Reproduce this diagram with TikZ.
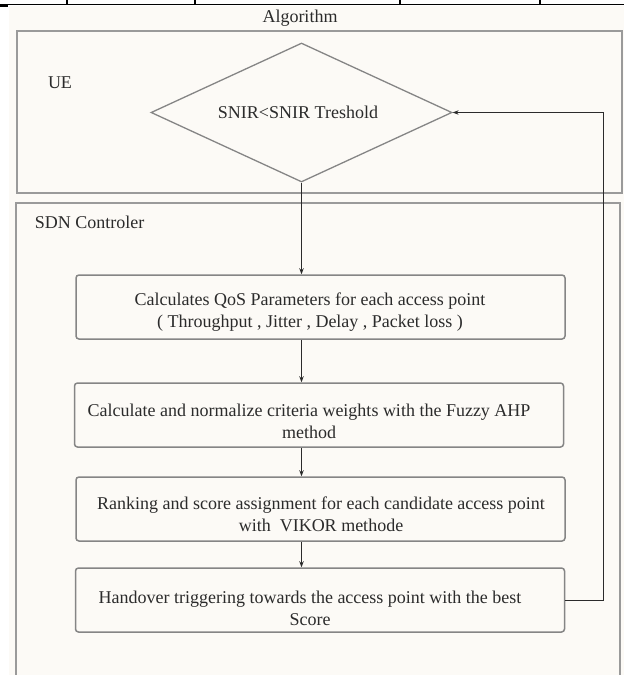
\documentclass[tikz,border=0pt]{standalone}
\usepackage{fontspec}
\setmainfont{Liberation Serif}
\usetikzlibrary{shapes.geometric,arrows.meta}
\definecolor{cream}{HTML}{FCFAF6}
\definecolor{framegray}{HTML}{9A9A9A}
\definecolor{boxgray}{HTML}{858585}
\definecolor{ink}{HTML}{2B2B2B}
\begin{document}
\begin{tikzpicture}[x=1pt,y=-1pt,
  every node/.style={font=\fontsize{18}{22}\selectfont, text=ink},
  frame/.style={draw=framegray, line width=1.8pt},
  stepbox/.style={draw=boxgray, line width=1.5pt, rounded corners=3pt,
    minimum width=489pt, minimum height=64pt, inner sep=0pt},
  txt/.style={align=center, inner sep=0pt},
  flow/.style={draw=ink, line width=0.9pt, -{Stealth[length=6pt,width=4.5pt]}},
  toprule/.style={draw=black, line width=1.2pt}]
\useasboundingbox (0,0) rectangle (624,675);
\fill[cream] (9,6) rectangle (624,675);
% top table rule
\draw[toprule] (0,4.5) -- (624,4.5);
\foreach \x in {67,195,400,540} \draw[toprule] (\x,0) -- (\x,4.5);
\draw[black, line width=2pt] (0,5.5) -- (8,5.5);

\node (alg) at (300,18) {Algorithm};

% UE region
\node[frame, minimum width=605pt, minimum height=162pt, inner sep=0pt] (ue) at (319.5,112) {};
\node (uelabel) at (60,83) {UE};

% SDN region (open at the bottom)
\draw[frame] (16,677) -- (16,203) -- (620,203) -- (620,677);
\node (sdnlabel) at (89.5,222) {SDN Controler};

% decision
\node[diamond, draw=boxgray, line width=1.3pt, minimum width=301pt,
  minimum height=139pt, inner sep=0pt] (d) at (301.5,112.5) {};
\node[txt] (dt) at (298,112) {SNIR<SNIR Treshold};

% process boxes
\node[stepbox] (b1) at (320.5,307) {};
\node[stepbox] (b2) at (319,415) {};
\node[stepbox] (b3) at (320.5,509) {};
\node[stepbox] (b4) at (320,600) {};

\node[txt] (t1) at (310,312) {Calculates QoS Parameters for each access point\\( Throughput , Jitter , Delay , Packet loss )};
\node[txt] (t2) at (309,421) {Calculate and normalize criteria weights with the Fuzzy AHP\\method};
\node[txt] (t3) at (321,514) {Ranking and score assignment for each candidate access point\\with\ \ VIKOR methode};
\node[txt] (t4) at (310,608) {Handover triggering towards the access point with the best\\Score};

% connectors
\coordinate (fb) at (603,0);
\draw[flow] (d.south) -- (d.south |- b1.north);
\draw[flow] (b1.south -| d.south) -- (b2.north -| d.south);
\draw[flow] (b2.south -| d.south) -- (b3.north -| d.south);
\draw[flow] (b3.south -| d.south) -- (b4.north -| d.south);
\draw[flow] (b4.east) -- (b4.east -| fb) -- (d.east -| fb) -- (d.east);
\end{tikzpicture}
\end{document}
